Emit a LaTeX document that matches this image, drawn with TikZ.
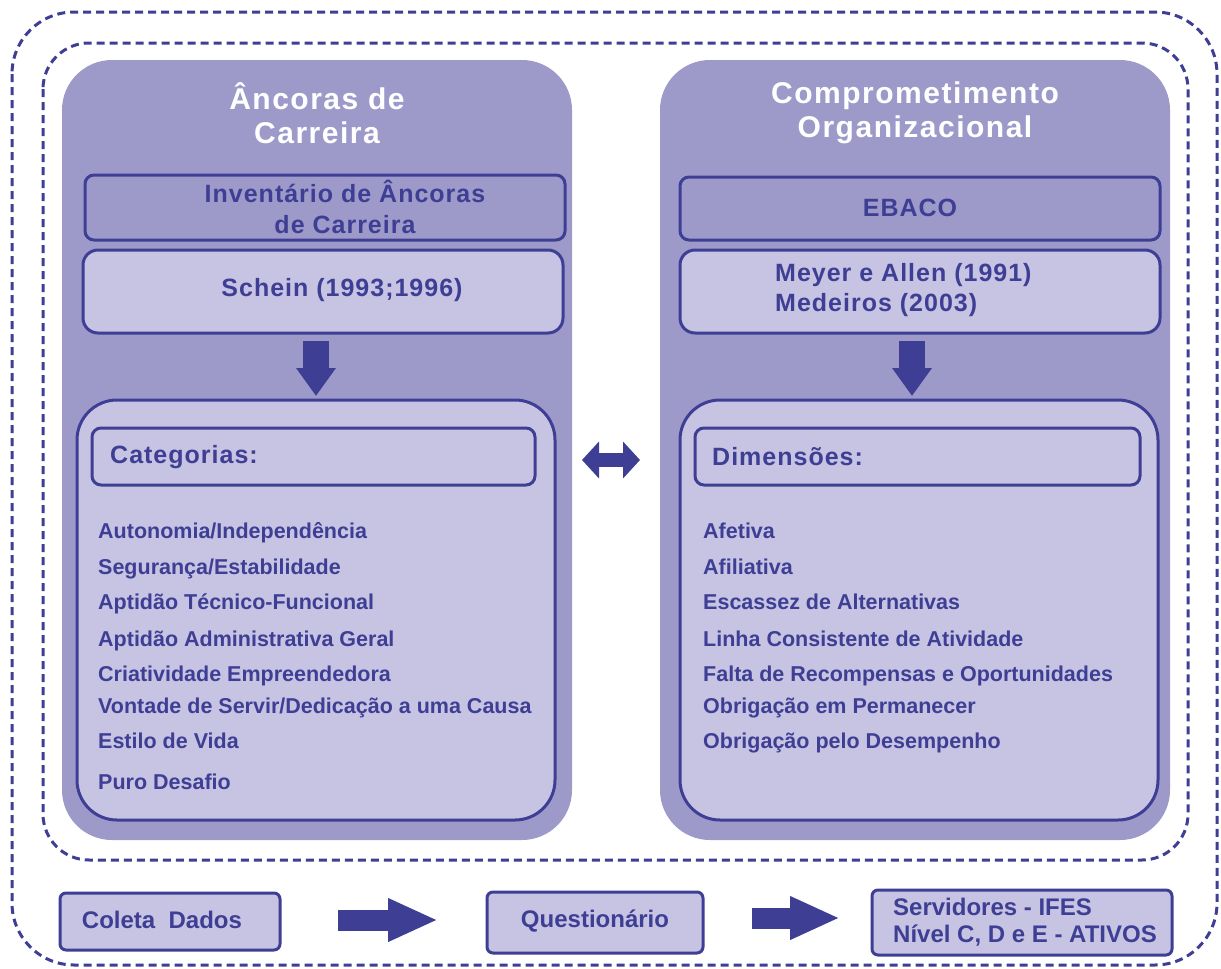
\documentclass[tikz,border=0pt]{standalone}
\usepackage{fontspec}
\setmainfont{Liberation Sans}
\usetikzlibrary{arrows.meta}
\definecolor{panel}{HTML}{9D9ACA}
\definecolor{light}{HTML}{C6C3E3}
\definecolor{dark}{HTML}{3E3F94}
\begin{document}
\begin{tikzpicture}[x=1pt,y=-1pt,
  dframe/.style={draw=dark, line width=3pt, dash pattern=on 8pt off 5pt},
  panelbox/.style={fill=panel, rounded corners=50pt, anchor=north west, inner sep=0pt, outer sep=0pt},
  box/.style={draw=dark, line width=3pt, rounded corners=9pt, anchor=north west, inner sep=0pt, outer sep=0pt},
  lbox/.style={box, fill=light},
  title/.style={text=white, font=\bfseries\fontsize{30}{34}\selectfont\addfontfeature{LetterSpace=5}, align=center, inner sep=0pt},
  head/.style={text=dark, font=\bfseries\fontsize{25}{30.5}\selectfont\addfontfeature{LetterSpace=4}, inner sep=0pt},
  item/.style={text=dark, font=\bfseries\fontsize{21.5}{25}\selectfont, anchor=base west, inner sep=0pt},
  bot/.style={text=dark, font=\bfseries\fontsize{24}{27}\selectfont, inner sep=0pt},
  downarrow/.style={dark, line width=26pt, -{Triangle[width=38pt,length=28pt]}},
  dblarrow/.style={dark, line width=14pt, {Triangle[width=36pt,length=17pt]}-{Triangle[width=36pt,length=17pt]}},
  rarrow/.style={dark, line width=21pt, -{Triangle[width=40pt,length=50pt]}}
]
\useasboundingbox (0,0) rectangle (1221,969);
% frames
\draw[dframe, rounded corners=62pt] (12,12) rectangle (1217,965);
\draw[dframe, rounded corners=46pt] (43,43) rectangle (1188,860);
% panels
\node[panelbox, minimum width=510pt, minimum height=780pt] (lp) at (62,60) {};
\node[panelbox, minimum width=510pt, minimum height=780pt] (rp) at (660,60) {};
% left column
\node[title] (lt) at (317,113) {Âncoras de\\Carreira};
\node[box, minimum width=480pt, minimum height=65pt] (inv) at (85,175) {};
\node[head, align=center] (invt) at (345,207) {Inventário de Âncoras\\de Carreira};
\node[lbox, rounded corners=15pt, minimum width=480pt, minimum height=83pt] (sch) at (83,250) {};
\node[head] (scht) at (342,290) {Schein (1993;1996)};
\node[lbox, rounded corners=40pt, minimum width=478pt, minimum height=420pt] (cat) at (77,400) {};
\node[box, minimum width=443pt, minimum height=57pt] (cath) at (92,428) {};
\node[head, anchor=west] (catt) at (110,457) {Categorias:};
\node[item] (c1) at (98,538) {Autonomia/Independência};
\node[item] (c2) at (98,574) {Segurança/Estabilidade};
\node[item] (c3) at (98,609) {Aptidão Técnico-Funcional};
\node[item] (c4) at (98,646) {Aptidão Administrativa Geral};
\node[item] (c5) at (98,681) {Criatividade Empreendedora};
\node[item] (c6) at (98,713) {Vontade de Servir/Dedicação a uma Causa};
\node[item] (c7) at (98,748) {Estilo de Vida};
\node[item] (c8) at (98,789) {Puro Desafio};
% right column
\node[title] (rt) at (915,113) {Comprometimento\\Organizacional};
\node[box, minimum width=480pt, minimum height=63pt] (eb) at (680,177) {};
\node[head] (ebt) at (910,208) {EBACO};
\node[lbox, rounded corners=15pt, minimum width=480pt, minimum height=83pt] (mey) at (680,250) {};
\node[head, align=left, anchor=west] (meyt) at (775,290) {Meyer e Allen (1991)\\Medeiros (2003)};
\node[lbox, rounded corners=40pt, minimum width=478pt, minimum height=420pt] (dim) at (680,400) {};
\node[box, minimum width=445pt, minimum height=57pt] (dimh) at (695,428) {};
\node[head, anchor=west] (dimt) at (712,457) {Dimensões:};
\node[item] (d1) at (703,538) {Afetiva};
\node[item] (d2) at (703,574) {Afiliativa};
\node[item] (d3) at (703,609) {Escassez de Alternativas};
\node[item] (d4) at (703,646) {Linha Consistente de Atividade};
\node[item] (d5) at (703,681) {Falta de Recompensas e Oportunidades};
\node[item] (d6) at (703,713) {Obrigação em Permanecer};
\node[item] (d7) at (703,748) {Obrigação pelo Desempenho};
% arrows in panels
\draw[downarrow, shorten <=8pt, shorten >=4pt] (sch.south -| cat.north) -- (cat.north);
\draw[downarrow, shorten <=8pt, shorten >=4pt] (mey.south -| 912,0) -- (dim.north -| 912,0);
\coordinate (da1) at (572,460);
\coordinate (da2) at (660,460);
\draw[dblarrow, shorten <=10pt, shorten >=20pt] (da1) -- (da2);
% bottom row
\node[lbox, rounded corners=6pt, minimum width=220pt, minimum height=57pt] (col) at (60,893) {};
\node[bot] (colt) at (162,920) {Coleta\ \ Dados};
\node[lbox, rounded corners=6pt, minimum width=216pt, minimum height=61pt] (que) at (487,892) {};
\node[bot] (quet) at (595,921) {Questionário};
\node[lbox, rounded corners=6pt, minimum width=300pt, minimum height=65pt] (ser) at (872,890) {};
\node[bot, align=left, anchor=west] (sert) at (893,922) {Servidores - IFES\\Nível C, D e E - ATIVOS};
\draw[rarrow, shorten <=58pt, shorten >=49pt] (col.east |- 0,920) -- (que.west |- 0,920);
\draw[rarrow, shorten <=49pt, shorten >=32pt] (que.east |- 0,918) -- (ser.west |- 0,918);
\end{tikzpicture}
\end{document}
